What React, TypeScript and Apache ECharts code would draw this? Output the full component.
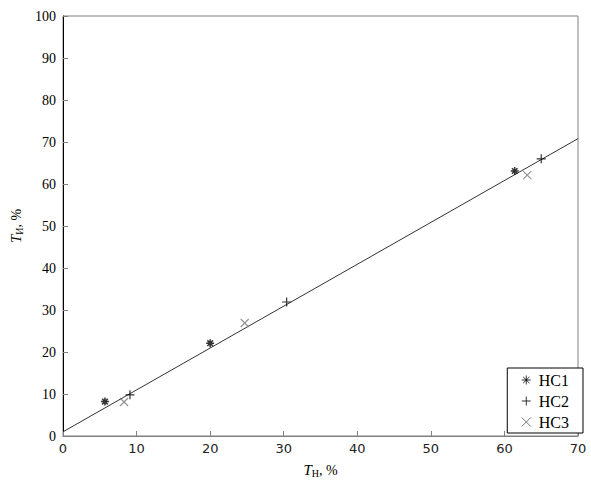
import React, { useEffect, useRef } from "react";
import * as echarts from "echarts";

const hc1: [number, number][] = [[5.7, 8.2], [20.0, 22.1], [61.4, 63.1]];
const hc2: [number, number][] = [[9.1, 9.8], [30.4, 31.9], [65.0, 66.0]];
const hc3: [number, number][] = [[8.3, 8.1], [24.7, 26.9], [63.1, 62.1]];
const fitLine: [number, number][] = [[0, 1.0], [70, 70.8]];

const seriesNames = ["HC1", "HC2", "HC3"];

const ASTER = "path://M5,0L5,10M0,5L10,5M1.5,1.5L8.5,8.5M8.5,1.5L1.5,8.5";
const PLUS = "path://M5,0L5,10M0,5L10,5";
const CROSS = "path://M0,0L10,10M10,0L0,10";

export default function App() {
  const ref = useRef<HTMLDivElement>(null);
  useEffect(() => {
    const chart = echarts.init(ref.current!, null, { renderer: "svg" });
    const serif = "Liberation Serif";
    const sans = "DejaVu Sans";
    chart.setOption({
      animation: false,
      backgroundColor: "#fff",
      grid: {
        left: 63,
        top: 16,
        right: 13,
        bottom: 49,
        show: true,
        borderColor: "#808080",
        borderWidth: 1,
      },
      xAxis: {
        type: "value",
        min: 0,
        max: 70,
        interval: 10,
        name: "{t|T}{s|Н}{n|, %}",
        nameLocation: "middle",
        nameGap: 26,
        nameTextStyle: {
          rich: {
            t: { fontFamily: serif, fontStyle: "italic", fontSize: 15, color: "#000" },
            s: { fontFamily: serif, fontSize: 10, color: "#000", verticalAlign: "bottom", padding: [6, 0, 0, 0] },
            n: { fontFamily: serif, fontSize: 14, color: "#000" },
          },
        },
        axisLine: { show: true, lineStyle: { color: "#808080", width: 1 } },
        axisTick: { show: true, inside: true, length: 5, lineStyle: { color: "#808080" } },
        axisLabel: { color: "#222", fontFamily: sans, fontSize: 13, margin: 6 },
        splitLine: { show: false },
      },
      yAxis: {
        type: "value",
        min: 0,
        max: 100,
        interval: 10,
        name: "{t|T}{s|И}{n|, %}",
        nameLocation: "middle",
        nameGap: 36,
        nameRotate: 90,
        nameTextStyle: {
          rich: {
            t: { fontFamily: serif, fontStyle: "italic", fontSize: 15, color: "#000" },
            s: { fontFamily: serif, fontSize: 10, color: "#000", verticalAlign: "bottom", padding: [6, 0, 0, 0] },
            n: { fontFamily: serif, fontSize: 14, color: "#000" },
          },
        },
        axisLine: { show: true, lineStyle: { color: "#000", width: 1 } },
        axisTick: { show: true, inside: true, length: 5, lineStyle: { color: "#808080" } },
        axisLabel: { color: "#000", fontFamily: serif, fontSize: 14, margin: 7 },
        splitLine: { show: false },
      },
      legend: {
        orient: "vertical",
        right: 8,
        bottom: 52,
        backgroundColor: "#fff",
        borderColor: "#000",
        borderWidth: 1,
        borderRadius: 0,
        padding: [4, 14, 3, 14],
        itemGap: 5,
        itemWidth: 9,
        itemHeight: 9,
        textStyle: { fontFamily: serif, fontSize: 16, color: "#000", padding: [0, 0, 0, 3] },
        data: seriesNames.map((n, i) => ({
          name: n,
          icon: [ASTER, PLUS, CROSS][i],
          itemStyle: { color: "transparent", borderColor: i === 2 ? "#555" : "#000", borderWidth: 1 },
          textStyle: { fontFamily: serif, fontSize: 16, color: "#000" },
        })),
      },
      series: [
        {
          type: "line",
          data: fitLine,
          symbol: "none",
          lineStyle: { color: "#333", width: 1 },
          z: 1,
          silent: true,
        },
        {
          name: seriesNames[0],
          type: "scatter",
          data: hc1,
          symbol: ASTER,
          symbolSize: 8,
          itemStyle: { color: "transparent", borderColor: "#000", borderWidth: 1.5 },
          z: 3,
        },
        {
          name: seriesNames[1],
          type: "scatter",
          data: hc2,
          symbol: PLUS,
          symbolSize: 9,
          itemStyle: { color: "transparent", borderColor: "#000", borderWidth: 1.2 },
          z: 3,
        },
        {
          name: seriesNames[2],
          type: "scatter",
          data: hc3,
          symbol: CROSS,
          symbolSize: 8,
          itemStyle: { color: "transparent", borderColor: "#777", borderWidth: 1.2 },
          z: 3,
        },
      ],
    });
    return () => chart.dispose();
  }, []);
  return (
    <div
      ref={ref}
      style={{ position: "fixed", left: 0, top: 0, width: 591, height: 485 }}
    />
  );
}
